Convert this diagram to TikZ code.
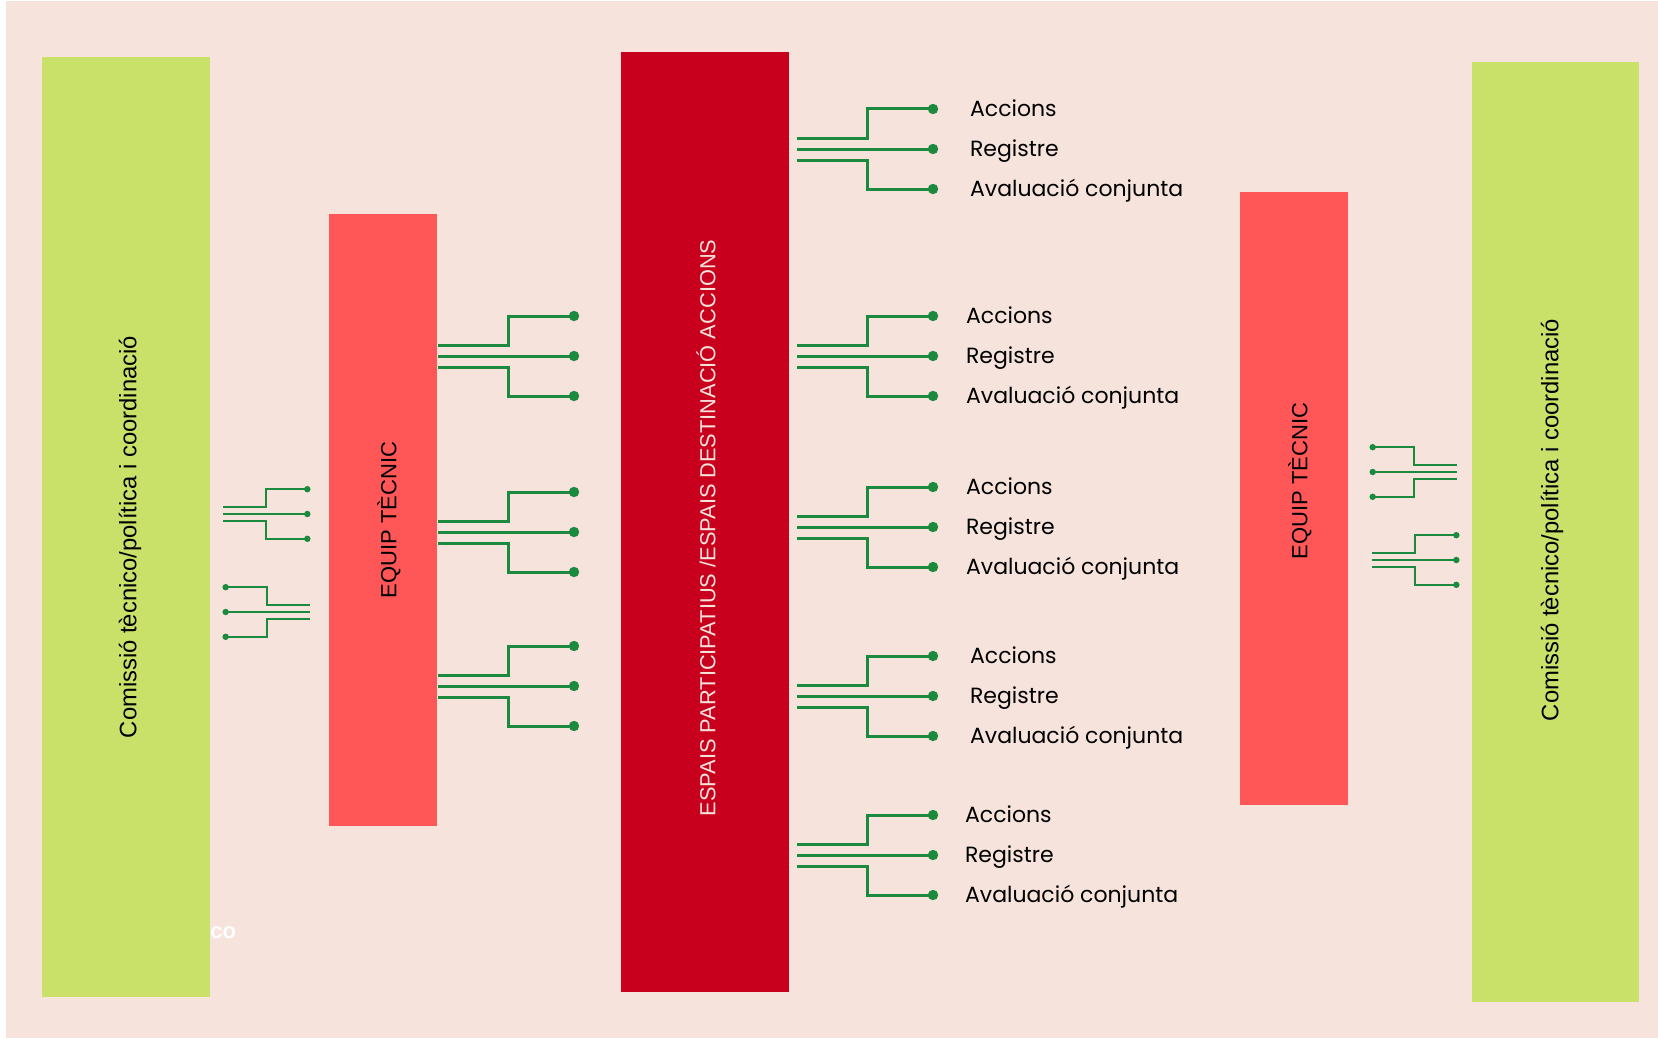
\documentclass[tikz,border=0pt]{standalone}
\usepackage{fontspec}
\setmainfont{Liberation Sans}
\newfontfamily\itemfont{Poppins}
\usepackage{xcolor}
\usepackage{tikz}
\usetikzlibrary{positioning}
\definecolor{bgpink}{RGB}{246,227,220}
\definecolor{limegreen}{RGB}{201,224,105}
\definecolor{coral}{RGB}{255,87,87}
\definecolor{crimson}{RGB}{200,0,30}
\definecolor{wiregreen}{RGB}{28,138,62}

\begin{document}
\begin{tikzpicture}[x=0.5pt, y=-0.5pt, wire/.style = {draw=wiregreen, line width=1.5pt}, smallwire/.style = {draw=wiregreen, line width=1pt}, itemtxt/.style = {text height=7.8pt, text depth=0pt, font=\itemfont\fontsize{11}{13}\selectfont}, sidetxt/.style = {rotate=90, font=\fontsize{11.9}{14}\selectfont}, equiptxt/.style = {rotate=90, font=\fontsize{11}{13}\selectfont}]
		\useasboundingbox (0,0) rectangle (1658,1038);
		\fill[bgpink] (6,1) rectangle (1658,1038);
		
		\fill[limegreen] (42,57) rectangle (210,997);
		\fill[limegreen] (1472,62) rectangle (1639,1002);
		\fill[coral] (329,214) rectangle (437,826);
		\fill[coral] (1240,192) rectangle (1348,805);
		\fill[crimson] (621,52) rectangle (789,992);
		
		\node[sidetxt] (comissioL) at (130,537) {Comissió tècnico/política i coordinació};
		\node[sidetxt] (comissioR) at (1552,520) {Comissió tècnico/política i coordinació};
		\node[equiptxt] (equipL) at (389,520) {EQUIP TÈCNIC};
		\node[equiptxt] (equipR) at (1300,481) {EQUIP TÈCNIC};
		\node[rotate=90, text=bgpink, font=\fontsize{10.9}{13}\selectfont] (espais) at (706,528) {ESPAIS PARTICIPATIUS /ESPAIS DESTINACIÓ ACCIONS};
		\node[anchor=west, inner sep=0pt, text=white, font=\bfseries\fontsize{11}{13}\selectfont] (co) at (210,933) {co};
		
		\begin{scope}[shift={(797,149)}]
			\path[shape=coordinate]
			(0,-11) coordinate(A)
			(70,-11) coordinate(B)
			(70,-40) coordinate(C)
			(136,-40) coordinate(D)
			(0,0) coordinate(E)
			(136,0) coordinate(F)
			(0,11) coordinate(G)
			(70,11) coordinate(H)
			(70,40) coordinate(I)
			(136,40) coordinate(J);
			
			\draw[wire] (A) -- (B) -- (C) -- (D);
			\draw[wire] (E) -- (F);
			\draw[wire] (G) -- (H) -- (I) -- (J);
			\fill[wiregreen] (D) circle (2.6pt) (F) circle (2.6pt) (J) circle (2.6pt);
			\node[itemtxt, right=15pt of D] (accions1) {Accions};
			\node[itemtxt, right=15pt of F] (registre1) {Registre};
			\node[itemtxt, right=15pt of J] (avaluacio1) {Avaluació conjunta};
		\end{scope}
		
		\begin{scope}[shift={(797,356)}]
			\path[shape=coordinate]
			(0,-11) coordinate(A)
			(70,-11) coordinate(B)
			(70,-40) coordinate(C)
			(136,-40) coordinate(D)
			(0,0) coordinate(E)
			(136,0) coordinate(F)
			(0,11) coordinate(G)
			(70,11) coordinate(H)
			(70,40) coordinate(I)
			(136,40) coordinate(J);
			
			\draw[wire] (A) -- (B) -- (C) -- (D);
			\draw[wire] (E) -- (F);
			\draw[wire] (G) -- (H) -- (I) -- (J);
			\fill[wiregreen] (D) circle (2.6pt) (F) circle (2.6pt) (J) circle (2.6pt);
			\node[itemtxt, right=13pt of D] (accions2) {Accions};
			\node[itemtxt, right=13pt of F] (registre2) {Registre};
			\node[itemtxt, right=13pt of J] (avaluacio2) {Avaluació conjunta};
		\end{scope}
		
		\begin{scope}[shift={(797,527)}]
			\path[shape=coordinate]
			(0,-11) coordinate(A)
			(70,-11) coordinate(B)
			(70,-40) coordinate(C)
			(136,-40) coordinate(D)
			(0,0) coordinate(E)
			(136,0) coordinate(F)
			(0,11) coordinate(G)
			(70,11) coordinate(H)
			(70,40) coordinate(I)
			(136,40) coordinate(J);
			
			\draw[wire] (A) -- (B) -- (C) -- (D);
			\draw[wire] (E) -- (F);
			\draw[wire] (G) -- (H) -- (I) -- (J);
			\fill[wiregreen] (D) circle (2.6pt) (F) circle (2.6pt) (J) circle (2.6pt);
			\node[itemtxt, right=13pt of D] (accions3) {Accions};
			\node[itemtxt, right=13pt of F] (registre3) {Registre};
			\node[itemtxt, right=13pt of J] (avaluacio3) {Avaluació conjunta};
		\end{scope}
		
		\begin{scope}[shift={(797,696)}]
			\path[shape=coordinate]
			(0,-11) coordinate(A)
			(70,-11) coordinate(B)
			(70,-40) coordinate(C)
			(136,-40) coordinate(D)
			(0,0) coordinate(E)
			(136,0) coordinate(F)
			(0,11) coordinate(G)
			(70,11) coordinate(H)
			(70,40) coordinate(I)
			(136,40) coordinate(J);
			
			\draw[wire] (A) -- (B) -- (C) -- (D);
			\draw[wire] (E) -- (F);
			\draw[wire] (G) -- (H) -- (I) -- (J);
			\fill[wiregreen] (D) circle (2.6pt) (F) circle (2.6pt) (J) circle (2.6pt);
			\node[itemtxt, right=15pt of D] (accions4) {Accions};
			\node[itemtxt, right=15pt of F] (registre4) {Registre};
			\node[itemtxt, right=15pt of J] (avaluacio4) {Avaluació conjunta};
		\end{scope}
		
		\begin{scope}[shift={(797,855)}]
			\path[shape=coordinate]
			(0,-11) coordinate(A)
			(70,-11) coordinate(B)
			(70,-40) coordinate(C)
			(136,-40) coordinate(D)
			(0,0) coordinate(E)
			(136,0) coordinate(F)
			(0,11) coordinate(G)
			(70,11) coordinate(H)
			(70,40) coordinate(I)
			(136,40) coordinate(J);
			
			\draw[wire] (A) -- (B) -- (C) -- (D);
			\draw[wire] (E) -- (F);
			\draw[wire] (G) -- (H) -- (I) -- (J);
			\fill[wiregreen] (D) circle (2.6pt) (F) circle (2.6pt) (J) circle (2.6pt);
			\node[itemtxt, right=12.5pt of D] (accions5) {Accions};
			\node[itemtxt, right=12.5pt of F] (registre5) {Registre};
			\node[itemtxt, right=12.5pt of J] (avaluacio5) {Avaluació conjunta};
		\end{scope}
		
		\begin{scope}[shift={(438,356)}]
			\path[shape=coordinate]
			(0,-11) coordinate(A)
			(70,-11) coordinate(B)
			(70,-40) coordinate(C)
			(136,-40) coordinate(D)
			(0,0) coordinate(E)
			(136,0) coordinate(F)
			(0,11) coordinate(G)
			(70,11) coordinate(H)
			(70,40) coordinate(I)
			(136,40) coordinate(J);
			
			\draw[wire] (A) -- (B) -- (C) -- (D);
			\draw[wire] (E) -- (F);
			\draw[wire] (G) -- (H) -- (I) -- (J);
			\fill[wiregreen] (D) circle (2.6pt) (F) circle (2.6pt) (J) circle (2.6pt);
		\end{scope}
		
		\begin{scope}[shift={(438,532)}]
			\path[shape=coordinate]
			(0,-11) coordinate(A)
			(70,-11) coordinate(B)
			(70,-40) coordinate(C)
			(136,-40) coordinate(D)
			(0,0) coordinate(E)
			(136,0) coordinate(F)
			(0,11) coordinate(G)
			(70,11) coordinate(H)
			(70,40) coordinate(I)
			(136,40) coordinate(J);
			
			\draw[wire] (A) -- (B) -- (C) -- (D);
			\draw[wire] (E) -- (F);
			\draw[wire] (G) -- (H) -- (I) -- (J);
			\fill[wiregreen] (D) circle (2.6pt) (F) circle (2.6pt) (J) circle (2.6pt);
		\end{scope}
		
		\begin{scope}[shift={(438,686)}]
			\path[shape=coordinate]
			(0,-11) coordinate(A)
			(70,-11) coordinate(B)
			(70,-40) coordinate(C)
			(136,-40) coordinate(D)
			(0,0) coordinate(E)
			(136,0) coordinate(F)
			(0,11) coordinate(G)
			(70,11) coordinate(H)
			(70,40) coordinate(I)
			(136,40) coordinate(J);
			
			\draw[wire] (A) -- (B) -- (C) -- (D);
			\draw[wire] (E) -- (F);
			\draw[wire] (G) -- (H) -- (I) -- (J);
			\fill[wiregreen] (D) circle (2.6pt) (F) circle (2.6pt) (J) circle (2.6pt);
		\end{scope}
		
		\begin{scope}[shift={(223,514)}, scale=0.62]
			\path[shape=coordinate]
			(0,-11) coordinate(A)
			(70,-11) coordinate(B)
			(70,-40) coordinate(C)
			(136,-40) coordinate(D)
			(0,0) coordinate(E)
			(136,0) coordinate(F)
			(0,11) coordinate(G)
			(70,11) coordinate(H)
			(70,40) coordinate(I)
			(136,40) coordinate(J);
			
			\draw[smallwire] (A) -- (B) -- (C) -- (D);
			\draw[smallwire] (E) -- (F);
			\draw[smallwire] (G) -- (H) -- (I) -- (J);
			\fill[wiregreen] (D) circle (2.6pt) (F) circle (2.6pt) (J) circle (2.6pt);
		\end{scope}
		
		\begin{scope}[shift={(310,612)}, xscale=-0.62, yscale=0.62]
			\path[shape=coordinate]
			(0,-11) coordinate(A)
			(70,-11) coordinate(B)
			(70,-40) coordinate(C)
			(136,-40) coordinate(D)
			(0,0) coordinate(E)
			(136,0) coordinate(F)
			(0,11) coordinate(G)
			(70,11) coordinate(H)
			(70,40) coordinate(I)
			(136,40) coordinate(J);
			
			\draw[smallwire] (A) -- (B) -- (C) -- (D);
			\draw[smallwire] (E) -- (F);
			\draw[smallwire] (G) -- (H) -- (I) -- (J);
			\fill[wiregreen] (D) circle (2.6pt) (F) circle (2.6pt) (J) circle (2.6pt);
		\end{scope}
		
		\begin{scope}[shift={(1457,472)}, xscale=-0.62, yscale=0.62]
			\path[shape=coordinate]
			(0,-11) coordinate(A)
			(70,-11) coordinate(B)
			(70,-40) coordinate(C)
			(136,-40) coordinate(D)
			(0,0) coordinate(E)
			(136,0) coordinate(F)
			(0,11) coordinate(G)
			(70,11) coordinate(H)
			(70,40) coordinate(I)
			(136,40) coordinate(J);
			
			\draw[smallwire] (A) -- (B) -- (C) -- (D);
			\draw[smallwire] (E) -- (F);
			\draw[smallwire] (G) -- (H) -- (I) -- (J);
			\fill[wiregreen] (D) circle (2.6pt) (F) circle (2.6pt) (J) circle (2.6pt);
		\end{scope}
		
		\begin{scope}[shift={(1372,560)}, scale=0.62]
			\path[shape=coordinate]
			(0,-11) coordinate(A)
			(70,-11) coordinate(B)
			(70,-40) coordinate(C)
			(136,-40) coordinate(D)
			(0,0) coordinate(E)
			(136,0) coordinate(F)
			(0,11) coordinate(G)
			(70,11) coordinate(H)
			(70,40) coordinate(I)
			(136,40) coordinate(J);
			
			\draw[smallwire] (A) -- (B) -- (C) -- (D);
			\draw[smallwire] (E) -- (F);
			\draw[smallwire] (G) -- (H) -- (I) -- (J);
			\fill[wiregreen] (D) circle (2.6pt) (F) circle (2.6pt) (J) circle (2.6pt);
		\end{scope}
	\end{tikzpicture}
\end{document}
